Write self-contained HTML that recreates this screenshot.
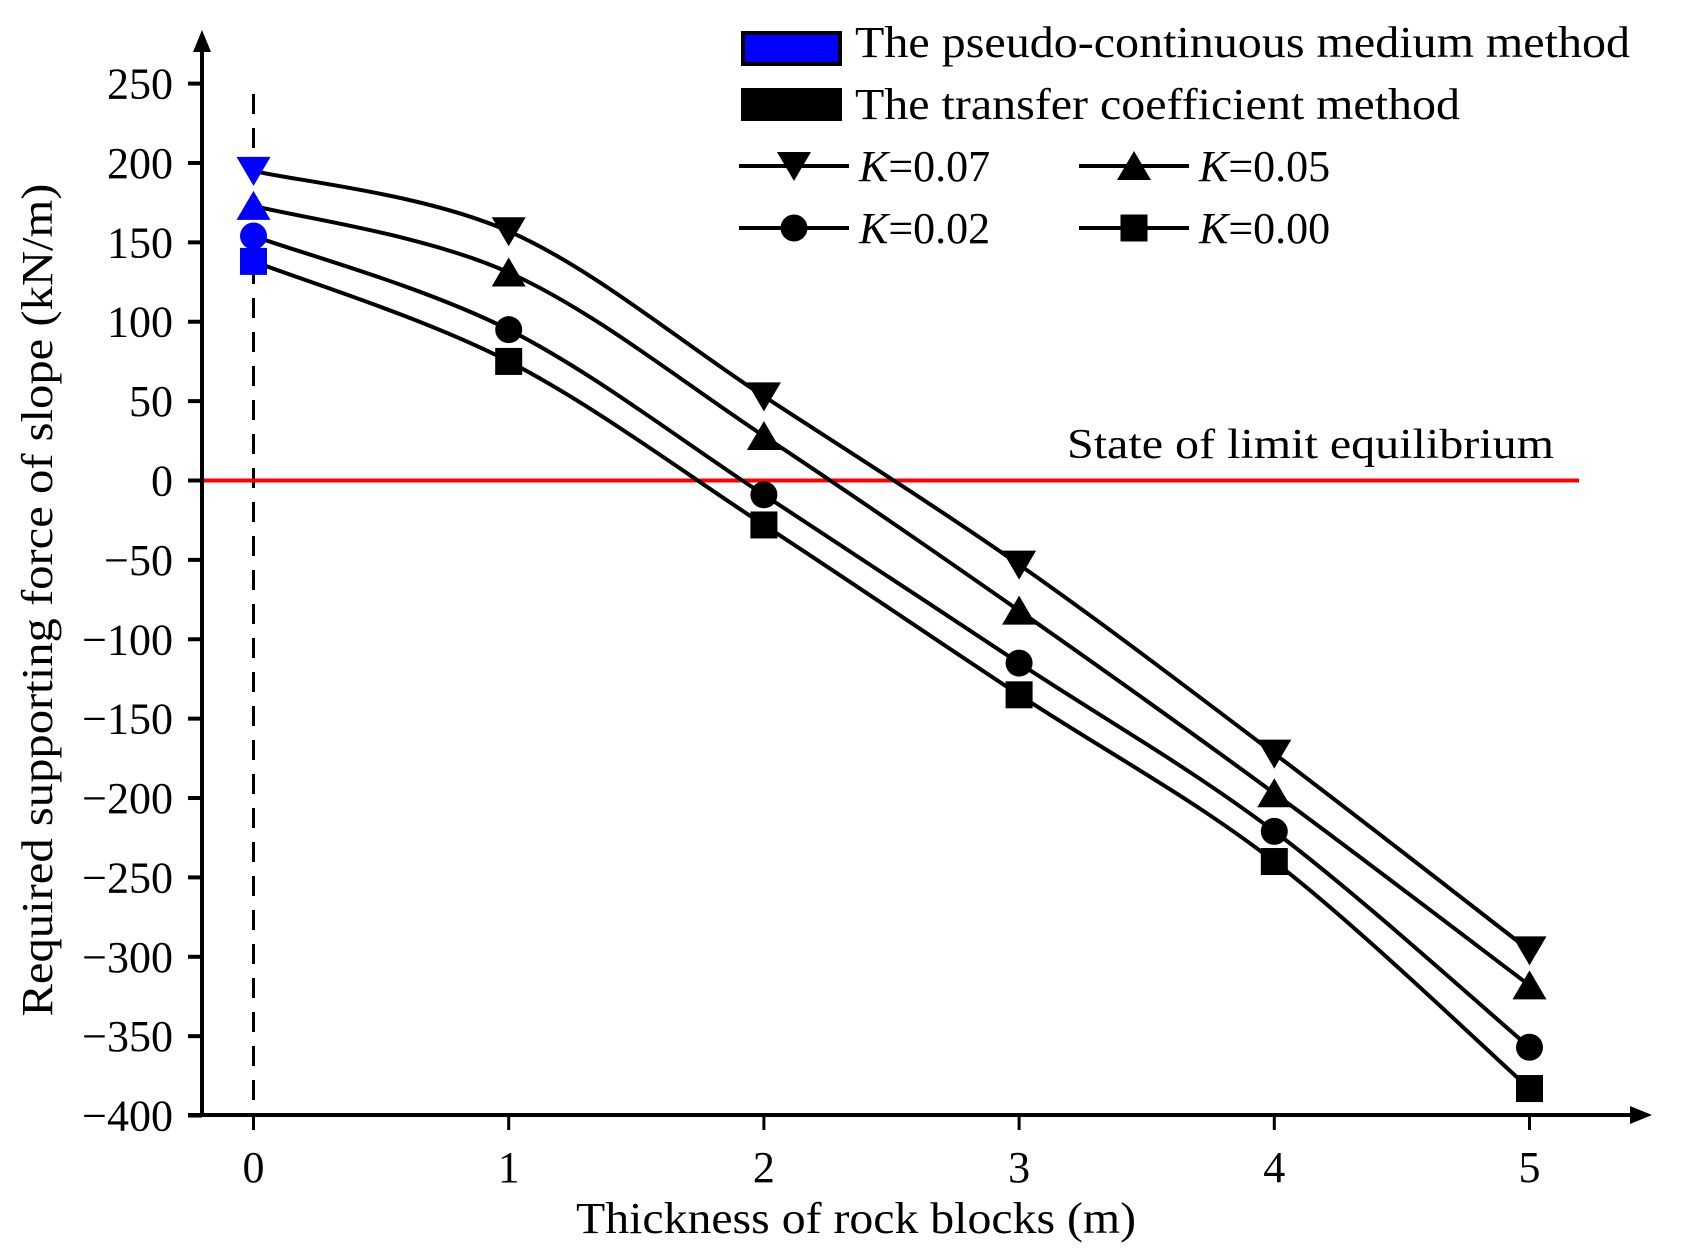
<!DOCTYPE html>
<html><head><meta charset="utf-8"><style>
html,body{margin:0;padding:0;background:#fff}
svg{display:block}
text{font-family:"Liberation Serif",serif;fill:#000}
</style></head><body>
<svg id="chart" width="1684" height="1259" viewBox="0 0 1684 1259" xmlns="http://www.w3.org/2000/svg">
<defs><clipPath id="cp"><rect x="0" y="0" width="1684" height="1259"/></clipPath></defs>
<g id="axes"></g>
<g id="series"></g>
<g>
  <rect x="743" y="33" width="97" height="31" fill="#0000ff" stroke="#000" stroke-width="4"/>
  <text x="855" y="57" font-size="44" textLength="775" lengthAdjust="spacingAndGlyphs">The pseudo-continuous medium method</text>
  <rect x="741" y="88" width="101" height="33" fill="#000"/>
  <text x="855" y="119" font-size="44" textLength="605" lengthAdjust="spacingAndGlyphs">The transfer coefficient method</text>
  <g id="legK"></g>
</g>
<text x="1067" y="458" font-size="42" textLength="487" lengthAdjust="spacingAndGlyphs">State of  limit equilibrium</text>
<text x="856" y="1233" font-size="44" text-anchor="middle" textLength="560" lengthAdjust="spacingAndGlyphs">Thickness of rock blocks (m)</text>
<text transform="translate(52,600) rotate(-90)" font-size="44" text-anchor="middle" textLength="833" lengthAdjust="spacingAndGlyphs">Required supporting force of slope (kN/m)</text>
</svg>
<script>
const xValues = [0, 1, 2, 3, 4, 5];
const seriesK007 = [195, 157, 53, -53, -172, -296];
const seriesK005 = [173, 131, 28, -82, -197, -318];
const seriesK002 = [154, 95, -9, -115, -221, -357];
const seriesK000 = [138, 75, -28, -135, -240, -383];
const seriesNames = ["K=0.07", "K=0.05", "K=0.02", "K=0.00"];
const yTicks = [250, 200, 150, 100, 50, 0, -50, -100, -150, -200, -250, -300, -350, -400];
const xTicks = [0, 1, 2, 3, 4, 5];

const NS = "http://www.w3.org/2000/svg";
function X(t){ return 253.5 + 255.2 * t; }
function Y(v){ return 480.5 - v * (396.9 / 250); }
function mk(tag, attrs, parent){
  const e = document.createElementNS(NS, tag);
  for (const k in attrs) e.setAttribute(k, attrs[k]);
  parent.appendChild(e); return e;
}
const axes = document.getElementById('axes');
const series = document.getElementById('series');

// y axis
let e = mk('line', {x1:202, y1:1115, x2:202, y2:48, stroke:'#000', 'stroke-width':4}, axes);


e = mk('polygon', {points:'202,30 193,52 211,52', fill:'#000'}, axes);


// x axis
e = mk('line', {x1:188, y1:1115, x2:1635, y2:1115, stroke:'#000', 'stroke-width':4}, axes);


e = mk('polygon', {points:'1652,1115 1630,1106 1630,1124', fill:'#000'}, axes);



yTicks.forEach(v => {
  const y = Y(v);
  let t = mk('line', {x1:188, y1:y, x2:202, y2:y, stroke:'#000', 'stroke-width':4}, axes);
  
  
  let l = mk('text', {x:173, y:y + 15, 'font-size':44, 'text-anchor':'end'}, axes);
  l.textContent = v < 0 ? '\u2212' + Math.abs(v) : String(v);
  
  
});
xTicks.forEach(v => {
  const x = X(v);
  let t = mk('line', {x1:x, y1:1115, x2:x, y2:1130, stroke:'#000', 'stroke-width':3}, axes);
  
  
  let l = mk('text', {x:x, y:1182, 'font-size':44, 'text-anchor':'middle'}, axes);
  l.textContent = String(v);
  
  
});

// dashed line at x=0
e = mk('line', {x1:X(0), y1:94, x2:X(0), y2:1115, stroke:'#000', 'stroke-width':3, 'stroke-dasharray':'20,14'}, axes);


// red limit line
e = mk('line', {x1:204, y1:Y(0), x2:1579, y2:Y(0), stroke:'#ff0000', 'stroke-width':4}, axes);



function marker(type, x, y, fill, parent){
  let m;
  if (type === 'down') m = mk('polygon', {points:`${x-17},${y-14} ${x+17},${y-14} ${x},${y+15}`, fill:fill}, parent);
  else if (type === 'up') m = mk('polygon', {points:`${x-17},${y+14} ${x+17},${y+14} ${x},${y-15}`, fill:fill}, parent);
  else if (type === 'circle') m = mk('circle', {cx:x, cy:y, r:13.5, fill:fill}, parent);
  else m = mk('rect', {x:x-13.5, y:y-13.5, width:27, height:27, fill:fill}, parent);
  return m;
}
function smoothPath(pts){
  let d = `M${pts[0][0]},${pts[0][1]}`;
  for (let i = 0; i < pts.length - 1; i++){
    const p0 = pts[Math.max(0, i-1)], p1 = pts[i], p2 = pts[i+1], p3 = pts[Math.min(pts.length-1, i+2)];
    const c1 = [p1[0] + (p2[0]-p0[0])/6, p1[1] + (p2[1]-p0[1])/6];
    const c2 = [p2[0] - (p3[0]-p1[0])/6, p2[1] - (p3[1]-p1[1])/6];
    d += ` C${c1[0]},${c1[1]} ${c2[0]},${c2[1]} ${p2[0]},${p2[1]}`;
  }
  return d;
}
const allSeries = [seriesK007, seriesK005, seriesK002, seriesK000];
const types = ['down', 'up', 'circle', 'square'];
const slugs = ['k-0-07', 'k-0-05', 'k-0-02', 'k-0-00'];
allSeries.forEach((vals, si) => {
  const g = mk('g', {}, series);
  
  
  const pts = vals.map((v, i) => [X(xValues[i]), Y(v)]);
  const p = mk('path', {d:smoothPath(pts), fill:'none', stroke:'#000', 'stroke-width':4}, g);
  
  
  pts.forEach((pt, i) => {
    const m = marker(types[si], pt[0], pt[1], i === 0 ? '#0000ff' : '#000', g);
    
    
  });
});

// legend K entries
const legK = document.getElementById('legK');
const legPos = [[739, 166], [1079, 166], [739, 228], [1079, 228]];
seriesNames.forEach((name, i) => {
  const [lx, ly] = legPos[i];
  const g = mk('g', {}, legK);
  
  
  mk('line', {x1:lx, y1:ly, x2:lx+110, y2:ly, stroke:'#000', 'stroke-width':4}, g);
  marker(types[i], lx + 55, ly, '#000', g);
  const t = mk('text', {x:lx + 120, y:ly + 15, 'font-size':44}, g);
  const ti = mk('tspan', {'font-style':'italic'}, t);
  ti.textContent = 'K';
  const tr = mk('tspan', {}, t);
  tr.textContent = name.slice(1);
});
</script>
</body></html>
